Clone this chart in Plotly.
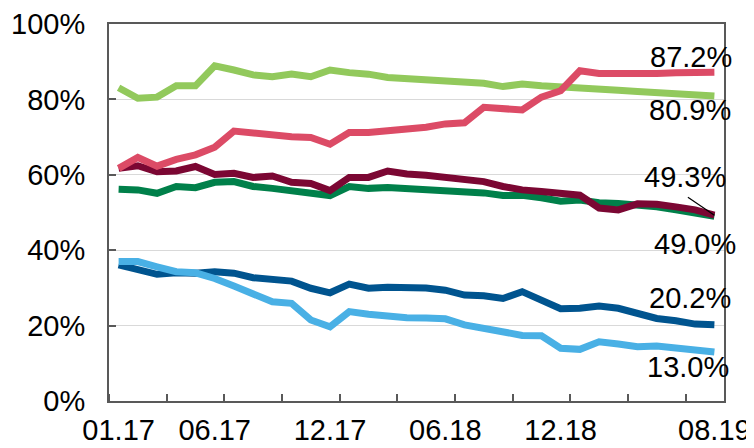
import plotly.graph_objects as go

# meses 01.17 .. 08.19
months = [f"{m:02d}.{y}" for y in (17, 18, 19) for m in range(1, 13)][:32]
tick_labels = ["01.17", "06.17", "12.17", "06.18", "12.18", "08.19"]

light_green = [83.1, 80.3, 80.6, 83.6, 83.6, 88.9, 87.8, 86.5, 86.0, 86.7, 86.0, 87.8,
               87.1, 86.7, 85.8, 85.5, 85.1, 84.8, 84.7, 84.3, 83.4, 84.1, 83.6, 83.4,
               82.9, 82.6, 82.4, 82.1, 81.8, 81.6, 81.4, 80.9]
dark_green = [56.2, 56.0, 55.1, 56.9, 56.6, 58.0, 58.2, 56.9, 56.4, 55.8, 55.1, 54.5,
              56.9, 56.4, 56.6, 56.3, 56.2, 56.0, 55.5, 55.2, 54.5, 54.6, 53.9, 53.0,
              53.3, 52.6, 52.4, 52.0, 51.5, 50.7, 50.0, 49.0]
maroon = [61.7, 62.4, 60.8, 61.0, 62.2, 60.1, 60.4, 59.3, 59.7, 58.0, 57.7, 55.8,
          59.3, 59.3, 61.0, 60.2, 59.9, 59.2, 58.9, 58.2, 56.9, 56.0, 55.6, 55.2,
          54.6, 51.2, 50.7, 52.3, 52.2, 51.5, 50.7, 49.3]
pink = [61.7, 64.6, 62.3, 64.1, 65.3, 67.3, 71.6, 71.0, 70.6, 70.1, 69.9, 68.1,
        71.2, 71.2, 71.7, 72.1, 72.6, 73.5, 73.8, 77.9, 77.6, 77.2, 80.6, 82.3,
        87.6, 86.9, 86.9, 86.7, 86.9, 87.1, 87.2, 87.2]
dark_blue = [36.1, 34.9, 33.6, 34.0, 33.9, 34.3, 33.9, 32.7, 32.3, 31.8, 29.9, 28.7,
             31.0, 29.9, 30.2, 30.1, 30.0, 29.4, 28.1, 27.9, 27.2, 29.0, 26.6, 24.5,
             24.6, 25.2, 24.6, 23.4, 21.9, 21.3, 20.4, 20.2]
light_blue = [37.0, 37.0, 35.6, 34.3, 34.0, 32.5, 30.5, 28.4, 26.3, 25.9, 21.5, 19.7,
              23.7, 23.0, 22.4, 22.1, 22.0, 21.8, 20.2, 19.3, 18.1, 17.4, 17.3, 14.0,
              13.7, 15.7, 15.1, 14.4, 14.6, 14.0, 13.7, 13.0]

x = list(range(len(months)))
FONT = "Liberation Sans, Arial, sans-serif"
FS = 29

fig = go.Figure()

series = [
    (light_green, "#92c95c", -24, -14),
    (dark_green, "#00804a", -19, -28),
    (maroon, "#7b0733", -29, 38),
    (pink, "#dc4b66", -23, 15),
    (dark_blue, "#00548f", -24, 27),
    (light_blue, "#49b0e5", -26, -15),
]

for vals, color, xs, ys in series:
    fig.add_trace(go.Scatter(x=x, y=vals, mode="lines",
                             line=dict(color=color, width=7),
                             hoverinfo="skip", showlegend=False))
    fig.add_annotation(x=x[-1], y=vals[-1], text=f"{vals[-1]:.1f}%",
                       showarrow=False, xshift=xs, yshift=ys,
                       font=dict(family=FONT, size=FS, color="black"))

# linea guia para 49.3%
fig.add_annotation(x=x[-1], y=maroon[-1], text="", showarrow=True,
                   arrowhead=0, arrowwidth=1.2, arrowcolor="black",
                   ax=-28, ay=-19, standoff=0)

# la pagina tiene 8px de margen en el body
fig.update_layout(
    width=746, height=440,
    margin=dict(l=101, r=30, t=16, b=47),
    plot_bgcolor="white", paper_bgcolor="white",
    font=dict(family=FONT, size=FS, color="black"),
)

fig.update_xaxes(
    range=[-0.5, 31.5],
    tickmode="array",
    tickvals=[months.index(t) for t in tick_labels],
    ticktext=tick_labels,
    ticks="",
    showgrid=False,
    zeroline=False,
    automargin=False,
    showline=True, linecolor="#595959", linewidth=2, mirror=True,
    ticklabelstandoff=2,
    minor=dict(ticks="inside", tick0=-0.5, dtick=3, ticklen=7,
               tickcolor="#595959", tickwidth=2, showgrid=False),
)

fig.update_yaxes(
    range=[0, 100],
    tickmode="linear", tick0=0, dtick=20,
    ticksuffix="%",
    ticks="inside", ticklen=7, tickcolor="#595959", tickwidth=2,
    showgrid=True, gridcolor="#d9d9d9", gridwidth=1,
    zeroline=False,
    automargin=False,
    showline=True, linecolor="#595959", linewidth=2, mirror=True,
    ticklabelstandoff=16,
)

fig.write_html("out.html")
